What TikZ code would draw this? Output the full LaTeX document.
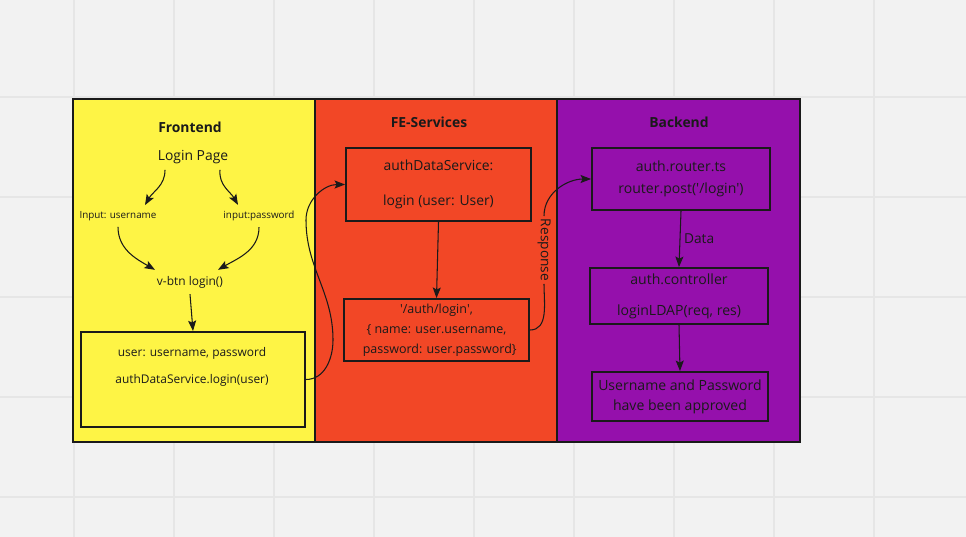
\documentclass[tikz,border=0pt]{standalone}
\usepackage{fontspec}
\setmainfont{Open Sans}
\usetikzlibrary{arrows.meta}

\definecolor{bgcol}{HTML}{F2F2F2}
\definecolor{gridcol}{HTML}{E6E6E6}
\definecolor{linecol}{HTML}{1A1A1A}
\definecolor{fecol}{HTML}{FEF445}
\definecolor{fescol}{HTML}{F24726}
\definecolor{becol}{HTML}{9510AC}

\newcommand{\ftxt}[2]{\fontsize{#1}{#2}\selectfont}
\newcommand{\q}{\textquotesingle}

\begin{document}
\begin{tikzpicture}[x=0.02cm,y=0.02cm,
    box/.style={draw=linecol, line width=1.1pt, align=center, inner sep=0pt},
    arr/.style={-{Stealth[length=6pt,width=4.6pt,inset=1.2pt]}, line width=0.6pt, draw=linecol},
    panel/.style={draw=linecol, line width=1.6pt},
    title/.style={font=\ftxt{7.9}{9}\bfseries}]

      % canvas and grid
      \fill[bgcol] (0,0) rectangle (966,-537);
      \useasboundingbox (0,0) rectangle (966,-537);
      \foreach \x in {74,174,...,874}
        \draw[gridcol, line width=0.7pt] (\x,0) -- (\x,-537);
      \foreach \y in {97,197,...,497}
        \draw[gridcol, line width=0.7pt] (0,-\y) -- (966,-\y);

      % lanes
      \draw[panel, fill=fecol]  (73,-99)  rectangle (315,-442);
      \draw[panel, fill=fescol] (315,-99) rectangle (557,-442);
      \draw[panel, fill=becol]  (557,-99) rectangle (800,-442);

      \begin{scope}[every node/.style={text=linecol}]
        \node[title] (fetitle)  at (190,-127) {Frontend};
        \node[title] (fsetitle) at (429,-122) {FE-Services};
        \node[title] (betitle)  at (679,-122) {Backend};

        % Frontend
        \node[font=\ftxt{7.9}{9}] (page) at (193,-157) {Login Page};
        \node[font=\ftxt{5.6}{7}] (user) at (118,-216) {Input: username};
        \node[font=\ftxt{5.6}{7}] (pass) at (259,-216) {input:password};
        \node[font=\ftxt{6.8}{9}] (btn)  at (190,-282) {v-btn login()};
        \node[box, minimum width=4.48cm, minimum height=1.9cm] (call) at (193,-379.5) {};
        \node[font=\ftxt{6.8}{15.3}, align=center] (calltxt) at (192,-366.5)
          {user: username, password\\authDataService.login(user)};

        % FE-Services
        \node[box, font=\ftxt{7.9}{19.8}, minimum width=3.7cm, minimum height=1.46cm]
          (service) at (438.5,-184.5) {authDataService:\\login (user: User)};
        \node[box, font=\ftxt{7.1}{11.3}, minimum width=3.7cm, minimum height=1.24cm]
          (request) at (436.5,-330) {\q/auth/login\q,\\\{ name: user.username,\\\ \ password: user.password\}};

        % Backend
        \node[box, font=\ftxt{8}{12.5}, minimum width=3.56cm, minimum height=1.24cm]
          (router) at (681,-179) {auth.router.ts\\router.post(\q/login\q)};
        \node[box, font=\ftxt{8}{17.6}, minimum width=3.56cm, minimum height=1.12cm]
          (ctrl) at (679,-296) {auth.controller\\loginLDAP(req, res)};
        \node[box, font=\ftxt{8}{11.3}, minimum width=3.52cm, minimum height=0.98cm]
          (done) at (680,-396.5) {Username and Password\\have been approved};

        \node[font=\ftxt{7.8}{9}, fill=fescol, inner sep=1.5pt, rotate=-90] (resp) at (544,-250) {Response};
      \end{scope}

      \begin{scope}[every node/.style={text=linecol, font=\ftxt{7.8}{9}}]
        \path ([xshift=-0.56cm]page.south) edge[arr, out=-90, in=60]  ([xshift=0.54cm]user.north);
        \path ([xshift=0.54cm]page.south)  edge[arr, out=-95, in=120] ([xshift=-0.42cm]pass.north);
        \path (user.south) edge[arr, out=-90, in=150] ([xshift=-0.7cm]btn.north);
        \path (pass.south) edge[arr, out=-90, in=30]  ([xshift=0.56cm]btn.north);
        \path (btn.south)  edge[arr] (call.north);
        \path (service.south) edge[arr] (request.north);
        \path (router.south)  edge[arr] node[right, inner sep=2pt] {Data} (ctrl.north);
        \path (ctrl.south)    edge[arr] (done.north);

        \draw[arr] (call.east) to[out=0, in=-90] (333,-340)
          to[out=90, in=-90] (306,-220) to[out=90, in=180] (service.west);
        \draw[line width=0.6pt, draw=linecol] (request.east) to[out=0, in=-90] (resp.east);
        \draw[arr] (resp.west) to[out=90, in=180] (router.west);
      \end{scope}

    \end{tikzpicture}
\end{document}
